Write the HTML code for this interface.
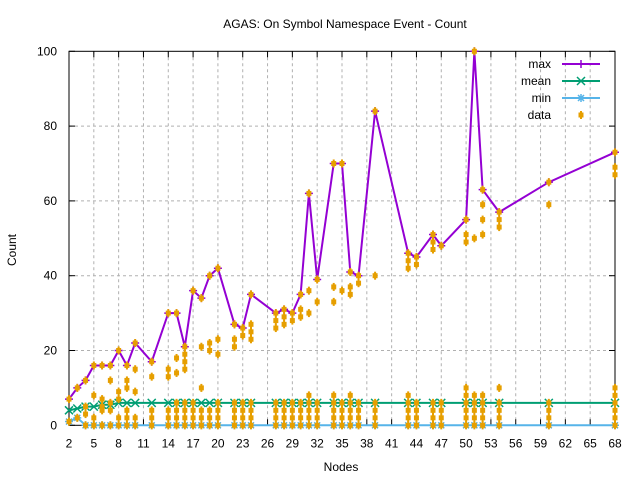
<!DOCTYPE html>
<html><head><meta charset="utf-8"><style>body{margin:0;background:#fff}svg{display:block;font-family:"Liberation Sans",sans-serif;font-size:12px}</style></head>
<body><svg id="s" width="640" height="480" xmlns="http://www.w3.org/2000/svg">
<rect width="640" height="480" fill="#fff"/>
<text x="345" y="28" text-anchor="middle">AGAS: On Symbol Namespace Event - Count</text>
<text x="341" y="471" text-anchor="middle">Nodes</text>
<text transform="translate(16,250) rotate(-90)" text-anchor="middle">Count</text>
<g id="g"></g>
</svg>
<script>
var X0=69,X1=615,Y0=425.3,Y1=51.3;
function px(x){return X0+(x-2)*(X1-X0)/66}
function py(y){return Y0-y*(Y0-Y1)/100}
var h='';
for(var v=0;v<=100;v+=20){var y=py(v);
 if(v>0&&v<100)h+='<line x1="'+X0+'" x2="'+X1+'" y1="'+y+'" y2="'+y+'" stroke="#b0b0b0" stroke-dasharray="3,3" stroke-width="1"/>';
 h+='<line x1="'+X0+'" x2="'+(X0+6)+'" y1="'+y+'" y2="'+y+'" stroke="#000"/><line x1="'+X1+'" x2="'+(X1-6)+'" y1="'+y+'" y2="'+y+'" stroke="#000"/>';
 h+='<text x="'+(X0-12)+'" y="'+(y+4)+'" text-anchor="end">'+v+'</text>';}
for(var t=2;t<=68;t+=3){var x=px(t);
 if(t>2&&t<68)h+='<line x1="'+x+'" x2="'+x+'" y1="'+Y1+'" y2="'+Y0+'" stroke="#b0b0b0" stroke-dasharray="3,3" stroke-width="1"/>';
 h+='<line x1="'+x+'" x2="'+x+'" y1="'+Y0+'" y2="'+(Y0-6)+'" stroke="#000"/><line x1="'+x+'" x2="'+x+'" y1="'+Y1+'" y2="'+(Y1+6)+'" stroke="#000"/>';
 h+='<text x="'+x+'" y="'+(Y0+22)+'" text-anchor="middle">'+t+'</text>';}
h+='<rect x="'+X0+'" y="'+Y1+'" width="'+(X1-X0)+'" height="'+(Y0-Y1)+'" fill="none" stroke="#000"/>';
var mx=[[2,7],[3,10],[4,12],[5,16],[6,16],[7,16],[8,20],[9,16],[10,22],[12,17],[14,30],[15,30],[16,21],[17,36],[18,34],[19,40],[20,42],[22,27],[23,26],[24,35],[27,30],[28,31],[29,30],[30,35],[31,62],[32,39],[34,70],[35,70],[36,41],[37,40],[39,84],[43,46],[44,45],[46,51],[47,48],[50,55],[51,100],[52,63],[54,57],[60,65],[68,73]];
var ex={2:[1],3:[2],4:[5,3,0],5:[8,2,0],6:[7,5,4,0],7:[12,6,4,0],8:[9,7,2,0],9:[12,10,4,2,0],10:[15,9,2,0],12:[13,4,2,0],14:[15,13,4,2,0],15:[18,14,6,4,2,0],16:[19,17,15,6,4,2,0],17:[6,4,2,0],18:[21,10,4,2,0],19:[22,20,4,2,0],20:[23,19,6,4,2,0],22:[23,21,6,4,2,0],23:[24,6,4,2,0],24:[27,25,23,6,4,2,0],27:[28,26,6,4,2,0],28:[29,27,6,4,2,0],29:[28,6,4,2,0],30:[31,29,6,4,2,0],31:[36,30,8,6,4,2,0],32:[33,6,4,2,0],34:[37,33,8,6,4,2,0],35:[36,6,4,2,0],36:[37,35,8,6,4,2,0],37:[38,6,4,2,0],39:[40,6,4,2,0],43:[44,42,8,6,4,2,0],44:[43,6,4,2,0],46:[49,47,6,4,2,0],47:[6,4,2,0],50:[51,49,10,8,6,4,2,0],51:[50,8,6,4,2,0],52:[59,55,51,8,6,4,2,0],54:[55,53,10,6,4,2,0],60:[59,6,4,2,0],68:[69,67,10,8,6,4,2,0]};
var meanv={2:4,3:4.5,4:5,5:5,6:5.5,7:5.5};
var minv={2:1,3:2};
function line(arr,col){return '<polyline fill="none" stroke="'+col+'" stroke-width="2" points="'+arr.map(function(p){return px(p[0])+','+py(p[1])}).join(' ')+'"/>';}
var me=mx.map(function(p){return [p[0],meanv[p[0]]||6]});
var mi=mx.map(function(p){return [p[0],minv[p[0]]||0]});
h+=line(mi,'#56b4e9');
mi.forEach(function(p){var x=px(p[0]),y=py(p[1]);h+='<path d="M'+(x-4)+' '+y+'h8M'+x+' '+(y-4)+'v8M'+(x-3)+' '+(y-3)+'l6 6M'+(x+3)+' '+(y-3)+'l-6 6" stroke="#56b4e9" stroke-width="1.5"/>';});
h+=line(me,'#009e73');
me.forEach(function(p){var x=px(p[0]),y=py(p[1]);h+='<path d="M'+(x-4)+' '+(y-4)+'l8 8M'+(x+4)+' '+(y-4)+'l-8 8" stroke="#009e73" stroke-width="1.5"/>';});
h+=line(mx,'#9400d3');
mx.forEach(function(p){var x=px(p[0]),y=py(p[1]);h+='<path d="M'+(x-4)+' '+y+'h8M'+x+' '+(y-4)+'v8" stroke="#9400d3" stroke-width="1.5"/>';});
function dot(x,y){return '<rect x="'+(x-2.5)+'" y="'+(y-2.5)+'" width="5" height="5" fill="#e69f00"/><rect x="'+(x-1)+'" y="'+(y-4)+'" width="2" height="8" fill="#e69f00"/>';}
mx.forEach(function(p){h+=dot(px(p[0]),py(p[1]));(ex[p[0]]||[]).forEach(function(v){h+=dot(px(p[0]),py(v));});});
var L=[['max','#9400d3'],['mean','#009e73'],['min','#56b4e9']];
L.forEach(function(l,i){var y=64+i*17;h+='<text x="551" y="'+(y+4)+'" text-anchor="end">'+l[0]+'</text><line x1="562" x2="600" y1="'+y+'" y2="'+y+'" stroke="'+l[1]+'" stroke-width="2"/>';});
h+='<path d="M577 64h8M581 60v8" stroke="#9400d3" stroke-width="1.5"/><path d="M577 77l8 8M585 77l-8 8" stroke="#009e73" stroke-width="1.5"/><path d="M577 98h8M581 94v8M578 95l6 6M584 95l-6 6" stroke="#56b4e9" stroke-width="1.5"/>';
h+='<text x="551" y="119" text-anchor="end">data</text>'+dot(581,115);
document.getElementById('g').innerHTML=h;
</script>
</body></html>
